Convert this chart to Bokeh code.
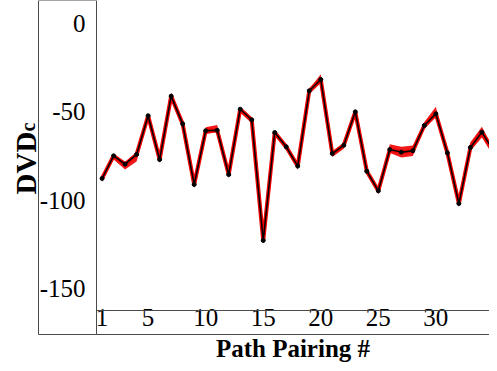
import math
from bokeh.plotting import figure
from bokeh.models import BoxAnnotation, Label, FixedTicker, Range1d, ColumnDataSource
from bokeh.embed import file_html
from bokeh.resources import INLINE

pairing = list(range(1, 36))
dvd = [-87.7, -74.9, -79.6, -74.1, -52.2, -77.0, -41.1, -56.8, -91.1, -60.7,
       -60.4, -85.5, -48.5, -54.5, -122.8, -61.7, -69.8, -80.7, -38.1, -31.7,
       -73.6, -68.9, -50.0, -83.6, -94.7, -71.3, -72.8, -72.0, -57.7, -51.1,
       -73.2, -101.9, -70.2, -61.5, -72.0]
band_lo = [2, 2, 3, 4, 2, 2, 2, 2, 2, 2, 1, 2, 2, 2, 2, 2, 2, 2, 2, 2,
           2, 2, 2, 2, 2, 2, 3, 3, 2, 2, 2, 2, 2, 3, 3]
band_hi = [1, 1, 1, 1, 1, 1, 2, 1, 1, 2, 3, 1, 1, 1, 1, 1, 1, 1, 1, 3,
           1, 1, 1, 1, 1, 3, 3, 3, 2, 4, 1, 1, 3, 3, 1]
x_ticks = [1, 5, 10, 15, 20, 25, 30]
y_ticks = [0, -50, -100, -150]
y_tick_labels = ["0", "-50", "-100", "-150"]

src = ColumnDataSource(dict(
    x=pairing, y=dvd,
    lo=[v - d for v, d in zip(dvd, band_lo)],
    hi=[v + d for v, d in zip(dvd, band_hi)],
))

FONT = "Liberation Serif"
BOX = "#4a4a4a"
W, H = 489, 363

# pixel <-> data helpers (canvas px, origin top-left)
XS = 393 / (34.66 - 0.515)
X0 = 0.515 - 96 / XS
YS = 1.767
YT = 23 / YS


def X(px):
    return X0 + px / XS


def Y(py):
    return YT - py / YS


p = figure(width=W, height=H, output_backend="svg", toolbar_location=None,
           x_range=Range1d(X(0), X(W)), y_range=Range1d(Y(H), Y(0)),
           min_border=0)
p.outline_line_color = None
p.xgrid.visible = False
p.ygrid.visible = False

p.varea(x="x", y1="lo", y2="hi", source=src, fill_color="#f00000", fill_alpha=0.9)
p.line(x="x", y="y", source=src, line_color="#f00000", line_width=4)
p.line(x="x", y="y", source=src, line_color="black", line_width=1.5)
p.scatter(x="x", y="y", source=src, size=4, color="black")

for ax in (p.xaxis[0], p.yaxis[0]):
    ax.major_tick_line_color = None
    ax.minor_tick_line_color = None
    ax.axis_line_color = None
    ax.major_label_text_font = FONT
    ax.major_label_text_font_size = "25px"
    ax.major_label_text_color = "black"

xa = p.xaxis[0]
xa.fixed_location = Y(310)
xa.bounds = (X(96), X(W))
xa.ticker = FixedTicker(ticks=x_ticks)
xa.major_label_standoff = -8
xa.axis_label = "Path Pairing #"
xa.axis_label_text_font = FONT
xa.axis_label_text_font_style = "bold"
xa.axis_label_text_font_size = "25px"
xa.axis_label_text_color = "black"
xa.axis_label_standoff = 6

ya = p.yaxis[0]
ya.fixed_location = X(96)
ya.ticker = FixedTicker(ticks=y_ticks)
ya.major_label_overrides = dict(zip(y_ticks, y_tick_labels))
ya.major_label_standoff = 5

# boxes around tick-label areas
p.add_layout(BoxAnnotation(left=X(38), right=X(96), top=Y(0), bottom=Y(334),
                           fill_color=None, line_color=BOX, line_alpha=1.0,
                           line_width=1))
p.add_layout(BoxAnnotation(left=X(96), right=X(W + 5), top=Y(310), bottom=Y(334),
                           fill_color=None, line_color=BOX, line_alpha=1.0,
                           line_width=1))

p.add_layout(Label(x=X(25), y=Y(162.5), text="DVD",
                   angle=math.pi / 2, text_align="center", text_baseline="alphabetic",
                   text_font=FONT, text_font_style="bold", text_font_size="29px",
                   text_color="black"))
p.add_layout(Label(x=X(27), y=Y(126.5), text="c",
                   angle=math.pi / 2, text_align="center", text_baseline="alphabetic",
                   text_font=FONT, text_font_style="bold", text_font_size="20px",
                   text_color="black"))

open("out.html", "w").write(file_html(p, INLINE))
